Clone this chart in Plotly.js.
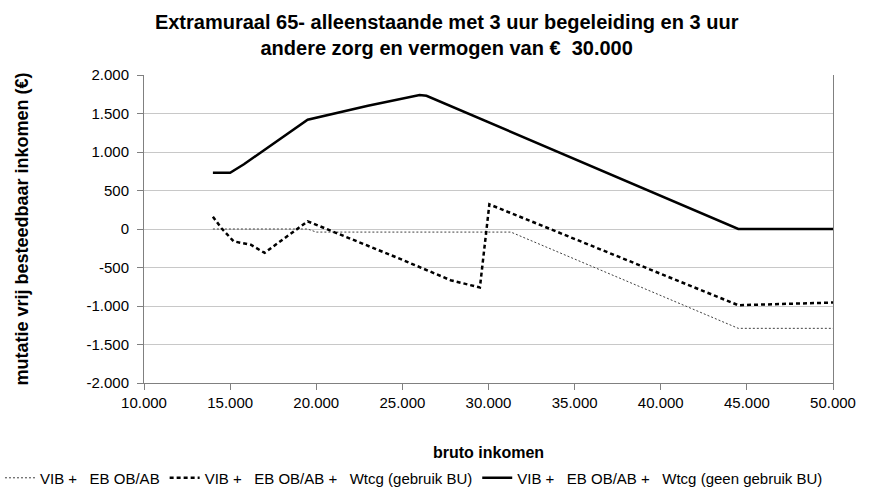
<!DOCTYPE html>
<html>
<head>
<meta charset="utf-8">
<script src="https://cdn.plot.ly/plotly-3.0.1.min.js"></script>
<style>html,body{margin:0;padding:0;background:#fff;}#chart{width:869px;height:489px;}</style>
</head>
<body>
<div id="chart"></div>
<script>
// Series: VIB + EB OB/AB (dotted)
const xVib = [14000, 19500, 20000, 31300, 44500, 50000];
const yVib = [0, 0, -40, -40, -1290, -1290];

// Series: VIB + EB OB/AB + Wtcg (gebruik BU) (dashed)
const xGebruik = [14000, 14500, 15200, 16200, 17000, 19500, 25000, 27800, 29500, 30050, 44500, 45500, 47000, 50000];
const yGebruik = [160, 10, -160, -205, -310, 100, -400, -665, -760, 320, -990, -985, -975, -955];

// Series: VIB + EB OB/AB + Wtcg (geen gebruik BU) (solid)
const xGeen = [14000, 15000, 15800, 19500, 23000, 26000, 26400, 44500, 50000];
const yGeen = [730, 730, 840, 1420, 1600, 1740, 1730, 0, 0];

const seriesNames = [
  'VIB +\u00a0\u00a0 EB OB/AB',
  'VIB +\u00a0\u00a0 EB OB/AB +\u00a0\u00a0 Wtcg (gebruik BU)',
  'VIB +\u00a0\u00a0 EB OB/AB +\u00a0\u00a0 Wtcg (geen gebruik BU)'
];

const xTickVals = [10000, 15000, 20000, 25000, 30000, 35000, 40000, 45000, 50000];
const xTickText = ['10.000', '15.000', '20.000', '25.000', '30.000', '35.000', '40.000', '45.000', '50.000'];
const yTickVals = [-2000, -1500, -1000, -500, 0, 500, 1000, 1500, 2000];
const yTickText = ['-2.000', '-1.500', '-1.000', '-500', '0', '500', '1.000', '1.500', '2.000'];

const font = 'Liberation Sans, Arial, sans-serif';

const traces = [
  {x: xVib, y: yVib, name: seriesNames[0], mode: 'lines',
   line: {color: '#404040', width: 1, dash: '2px,2px'}},
  {x: xGebruik, y: yGebruik, name: seriesNames[1], mode: 'lines',
   line: {color: '#000000', width: 2.5, dash: '4px,3px'}},
  {x: xGeen, y: yGeen, name: seriesNames[2], mode: 'lines',
   line: {color: '#000000', width: 2.5}}
];

const layout = {
  width: 869, height: 489,
  margin: {l: 144, r: 36, t: 75, b: 106, autoexpand: false},
  paper_bgcolor: '#ffffff', plot_bgcolor: '#ffffff',
  font: {family: font, color: '#000', size: 14},
  title: {
    text: '<b>Extramuraal 65- alleenstaande met 3 uur begeleiding en 3 uur<br>andere zorg en vermogen van €\u00a0 30.000</b>',
    font: {family: font, size: 20, color: '#000'},
    x: 0.514, xanchor: 'center', y: 0.94, yanchor: 'middle'
  },
  xaxis: {
    range: [10000, 50000],
    tickvals: xTickVals, ticktext: xTickText,
    showgrid: false, zeroline: false, automargin: false,
    showline: true, linecolor: '#808080', linewidth: 1,
    ticks: 'outside', ticklen: 6, tickcolor: '#808080',
    tickfont: {family: font, size: 15, color: '#000'},
    title: {text: '<b>bruto inkomen</b>', font: {family: font, size: 16, color: '#000'}, standoff: 36}
  },
  yaxis: {
    range: [-2000, 2000],
    tickvals: yTickVals, ticktext: yTickText,
    showgrid: true, gridcolor: '#c8c8c8', gridwidth: 1,
    zeroline: false, automargin: false,
    showline: true, mirror: true, linecolor: '#808080', linewidth: 1,
    ticks: 'outside', ticklen: 6, tickcolor: '#808080',
    ticklabelstandoff: 5,
    tickfont: {family: font, size: 15, color: '#000'},
    title: {text: '<b>mutatie vrij besteedbaar inkomen (€)</b>', font: {family: font, size: 18, color: '#000'}, standoff: 53}
  },
  showlegend: true,
  legend: {
    orientation: 'h', x: -0.209, xanchor: 'left', y: -0.255, yanchor: 'top',
    font: {family: font, size: 15, color: '#000'},
    itemwidth: 30, tracegroupgap: 0, bgcolor: 'rgba(0,0,0,0)'
  }
};

Plotly.newPlot('chart', traces, layout, {displayModeBar: false, staticPlot: true});
</script>
</body>
</html>
